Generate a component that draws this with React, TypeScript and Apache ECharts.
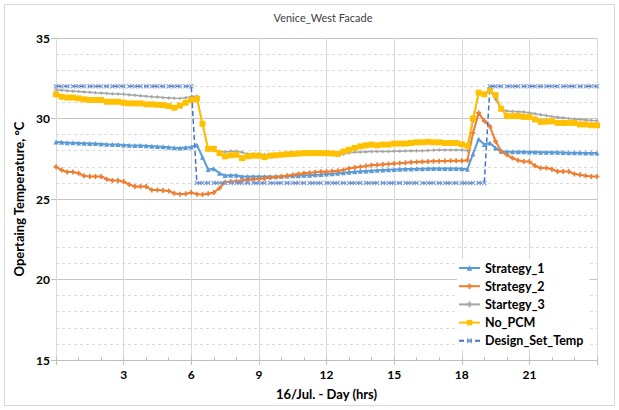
import React, { useEffect, useRef } from "react";
import * as echarts from "echarts";

// 15-minute samples, 0 h .. 24 h (97 points)
const hours: number[] = Array.from({ length: 97 }, (_, i) => i / 4);

const strategy1: number[] = [
  28.54, 28.52, 28.50, 28.49, 28.48, 28.47, 28.45, 28.44,
  28.42, 28.40, 28.39, 28.38, 28.36, 28.34, 28.33, 28.32,
  28.30, 28.28, 28.26, 28.24, 28.22, 28.18, 28.17, 28.20,
  28.23, 28.35, 27.60, 26.83, 26.88, 26.60, 26.46, 26.48,
  26.48, 26.40, 26.40, 26.40, 26.40, 26.40, 26.40, 26.40,
  26.42, 26.43, 26.44, 26.45, 26.47, 26.48, 26.50, 26.52,
  26.55, 26.57, 26.60, 26.63, 26.66, 26.69, 26.72, 26.74,
  26.76, 26.78, 26.80, 26.82, 26.84, 26.85, 26.86, 26.87,
  26.88, 26.88, 26.89, 26.89, 26.90, 26.90, 26.90, 26.90,
  26.88, 26.85, 27.80, 28.72, 28.38, 28.48, 28.17, 27.96,
  27.94, 27.94, 27.93, 27.93, 27.92, 27.92, 27.91, 27.91,
  27.90, 27.90, 27.89, 27.88, 27.87, 27.87, 27.86, 27.85,
  27.85,
];

const strategy2: number[] = [
  27.00, 26.80, 26.67, 26.67, 26.60, 26.44, 26.40, 26.40,
  26.40, 26.23, 26.15, 26.15, 26.08, 25.90, 25.77, 25.77,
  25.77, 25.56, 25.56, 25.53, 25.50, 25.35, 25.30, 25.32,
  25.40, 25.30, 25.28, 25.33, 25.40, 25.67, 26.04, 26.08,
  26.10, 26.15, 26.19, 26.22, 26.25, 26.28, 26.33, 26.36,
  26.40, 26.45, 26.50, 26.55, 26.60, 26.63, 26.66, 26.70,
  26.70, 26.72, 26.75, 26.80, 26.90, 26.95, 27.00, 27.05,
  27.10, 27.12, 27.15, 27.18, 27.20, 27.22, 27.25, 27.28,
  27.30, 27.32, 27.33, 27.35, 27.35, 27.36, 27.37, 27.37,
  27.37, 27.40, 29.10, 30.35, 29.85, 29.50, 28.58, 27.96,
  27.75, 27.54, 27.40, 27.33, 27.33, 27.06, 26.92, 26.92,
  26.85, 26.71, 26.71, 26.71, 26.56, 26.50, 26.44, 26.40,
  26.40,
];

const strategy3: number[] = [
  31.78, 31.75, 31.72, 31.70, 31.68, 31.65, 31.63, 31.60,
  31.58, 31.56, 31.54, 31.52, 31.50, 31.47, 31.44, 31.41,
  31.38, 31.35, 31.33, 31.30, 31.28, 31.26, 31.25, 31.29,
  31.35, 31.38, 29.60, 28.10, 28.00, 27.95, 27.92, 27.96,
  27.96, 27.90, 27.80, 27.79, 27.78, 27.76, 27.75, 27.75,
  27.75, 27.76, 27.78, 27.80, 27.82, 27.83, 27.84, 27.85,
  27.80, 27.78, 27.75, 27.80, 27.88, 27.90, 27.92, 27.93,
  27.95, 27.95, 27.95, 27.95, 27.96, 27.97, 27.98, 27.99,
  28.00, 28.00, 28.02, 28.03, 28.05, 28.05, 28.05, 28.05,
  28.05, 28.00, 29.85, 31.55, 31.50, 31.80, 31.20, 30.56,
  30.46, 30.44, 30.42, 30.40, 30.36, 30.30, 30.24, 30.18,
  30.12, 30.08, 30.04, 30.00, 29.97, 29.94, 29.91, 29.88,
  29.86,
];

const noPCM: number[] = [
  31.50, 31.35, 31.30, 31.30, 31.25, 31.19, 31.15, 31.15,
  31.15, 31.04, 31.04, 31.04, 30.98, 30.94, 30.94, 30.94,
  30.88, 30.88, 30.85, 30.83, 30.77, 30.67, 30.80, 30.98,
  31.15, 31.23, 29.67, 28.12, 28.12, 27.85, 27.65, 27.71,
  27.75, 27.54, 27.65, 27.69, 27.69, 27.60, 27.69, 27.72,
  27.75, 27.78, 27.80, 27.82, 27.85, 27.85, 27.85, 27.85,
  27.85, 27.83, 27.80, 27.95, 28.06, 28.17, 28.27, 28.33,
  28.38, 28.33, 28.38, 28.38, 28.44, 28.44, 28.44, 28.48,
  28.52, 28.52, 28.55, 28.52, 28.52, 28.48, 28.48, 28.48,
  28.40, 28.30, 30.00, 31.60, 31.50, 31.75, 31.45, 30.60,
  30.15, 30.15, 30.15, 30.10, 30.10, 29.94, 29.79, 29.80,
  29.83, 29.73, 29.72, 29.73, 29.72, 29.63, 29.63, 29.58,
  29.58,
];

const designSetTemp: number[] = [
  32, 32, 32, 32, 32, 32, 32, 32,
  32, 32, 32, 32, 32, 32, 32, 32,
  32, 32, 32, 32, 32, 32, 32, 32,
  32, 26, 26, 26, 26, 26, 26, 26,
  26, 26, 26, 26, 26, 26, 26, 26,
  26, 26, 26, 26, 26, 26, 26, 26,
  26, 26, 26, 26, 26, 26, 26, 26,
  26, 26, 26, 26, 26, 26, 26, 26,
  26, 26, 26, 26, 26, 26, 26, 26,
  26, 26, 26, 26, 26, 32, 32, 32,
  32, 32, 32, 32, 32, 32, 32, 32,
  32, 32, 32, 32, 32, 32, 32, 32,
  32,
];

const seriesNames = ["Strategy_1", "Strategy_2", "Startegy_3", "No_PCM", "Design_Set_Temp"];
const seriesColors = ["#5B9BD5", "#ED7D31", "#A5A5A5", "#FFC000", "#4472C4"];

const PLUS = "path://M2,0H4V2H6V4H4V6H2V4H0V2H2Z";
const CROSS = "path://M0,1L1,0L3,2L5,0L6,1L4,3L6,5L5,6L3,4L1,6L0,5L2,3Z";

const FONT = "Lato, 'Liberation Sans', sans-serif";

export default function App() {
  const ref = useRef<HTMLDivElement>(null);

  useEffect(() => {
    if (!ref.current) return;
    const chart = echarts.init(ref.current, undefined, { renderer: "svg" });
    const pair = (vals: number[]) => hours.map((h, i) => [h, vals[i]]);

    const mk = (idx: number, vals: number[], symbol: string, symbolSize: number, width: number, extra: any = {}) => ({
      name: seriesNames[idx],
      type: "line",
      data: pair(vals),
      symbol,
      symbolSize,
      showAllSymbol: true,
      symbolKeepAspect: true,
      itemStyle: { color: seriesColors[idx] },
      lineStyle: { color: seriesColors[idx], width },
      emphasis: { disabled: true },
      ...extra,
    });

    chart.setOption({
      animation: false,
      backgroundColor: "#ffffff",
      textStyle: { fontFamily: FONT },
      title: {
        text: "Venice_West Facade",
        left: 318,
        textAlign: "center",
        top: 7,
        textStyle: { fontFamily: FONT, fontSize: 11, fontWeight: "normal", color: "#404040" },
      },
      graphic: [
        {
          type: "rect",
          shape: { x: 4.5, y: 4.5, width: 610, height: 401 },
          style: { fill: "none", stroke: "#d9d9d9", lineWidth: 1 },
          silent: true,
          z: -1,
        },
      ],
      grid: { left: 56, right: 22, top: 38, bottom: 50 },
      legend: {
        orient: "vertical",
        left: 457,
        top: 259,
        itemWidth: 21,
        itemHeight: 7,
        itemGap: 4.2,
        padding: [2, 6, 2, 1],
        backgroundColor: "#ffffff",
        data: seriesNames,
        textStyle: { fontFamily: FONT, fontSize: 12.5, fontWeight: "bold", color: "#000", lineHeight: 14 },
      },
      xAxis: [
        {
          type: "value",
          min: 0,
          max: 24,
          interval: 3,
          name: "16/Jul. - Day (hrs)",
          nameLocation: "middle",
          nameGap: 27,
          nameTextStyle: { fontFamily: FONT, fontSize: 13, fontWeight: "bold", color: "#000" },
          axisLine: { show: true, lineStyle: { color: "#bfbfbf", width: 1 } },
          axisTick: { show: true, length: 5, lineStyle: { color: "#bfbfbf" } },
          axisLabel: {
            fontFamily: FONT,
            fontSize: 12,
            fontWeight: "bold",
            color: "#000",
            margin: 8,
            formatter: (v: number) => (v === 0 || v === 24 ? "" : String(v)),
          },
          splitLine: { show: true, lineStyle: { color: "#d9d9d9", width: 1 } },
        },
        {
          type: "value",
          min: 0,
          max: 24,
          interval: 1,
          position: "bottom",
          axisLine: { show: false },
          axisTick: { show: true, inside: true, length: 3, lineStyle: { color: "#bfbfbf" } },
          axisLabel: { show: false },
          splitLine: { show: false },
        },
      ],
      yAxis: {
        type: "value",
        min: 15,
        max: 35,
        interval: 5,
        name: "Opertaing Temperature, °C",
        nameLocation: "middle",
        nameGap: 25,
        nameTextStyle: { fontFamily: FONT, fontSize: 13, fontWeight: "bold", color: "#000" },
        axisLine: { show: true, lineStyle: { color: "#d9d9d9", width: 1 } },
        axisTick: { show: true, length: 5, lineStyle: { color: "#bfbfbf" } },
        axisLabel: { fontFamily: FONT, fontSize: 12, fontWeight: "bold", color: "#000", margin: 6 },
        splitLine: { show: true, lineStyle: { color: "#c4c4c4", width: 1 } },
        minorTick: { show: false, splitNumber: 5 },
        minorSplitLine: { show: true, lineStyle: { color: "#d9d9d9", type: [3, 3], width: 1 } },
      },
      series: [
        mk(0, strategy1, "triangle", 5, 2),
        mk(1, strategy2, PLUS, 5, 2),
        mk(2, strategy3, PLUS, 3.5, 1.5),
        mk(3, noPCM, "rect", 6, 2),
        mk(4, designSetTemp, CROSS, 5, 1.5, {
          lineStyle: { color: seriesColors[4], width: 1.5, type: [5, 3] },
          itemStyle: { color: "#7f9fd8" },
        }),
      ],
    });

    return () => chart.dispose();
  }, []);

  return (
    <div
      ref={ref}
      style={{ position: "fixed", left: 0, top: 0, width: 619, height: 410 }}
    />
  );
}
